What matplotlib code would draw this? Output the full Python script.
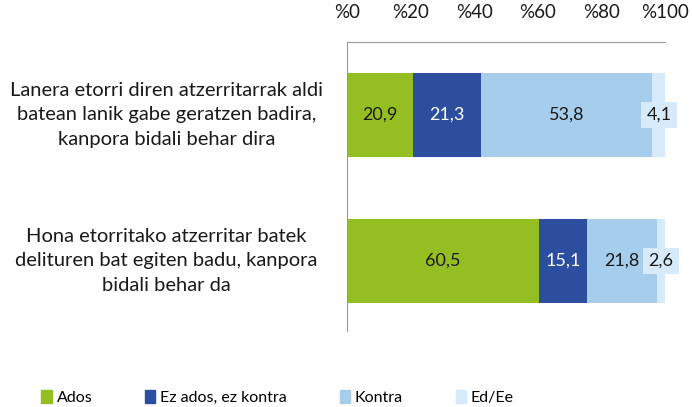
import matplotlib.pyplot as plt
from matplotlib.patches import Patch

plt.rcParams['font.family'] = ['Lato', 'DejaVu Sans']

questions = [
    "Lanera etorri diren atzerritarrak aldi\nbatean lanik gabe geratzen badira,\nkanpora bidali behar dira",
    "Hona etorritako atzerritar batek\ndelituren bat egiten badu, kanpora\nbidali behar da",
]
series_names = ["Ados", "Ez ados, ez kontra", "Kontra", "Ed/Ee"]
ados = [20.9, 60.5]
neutral = [21.3, 15.1]
kontra = [53.8, 21.8]
ed_ee = [4.1, 2.6]
tick_vals = [0, 20, 40, 60, 80, 100]
tick_labels = ["%0", "%20", "%40", "%60", "%80", "%100"]

colors = ["#95be22", "#2c4e9e", "#a6cdeb", "#d6eaf9"]
text_colors = ["#1a1a1a", "white", "#1a1a1a", "#1a1a1a"]

fig = plt.figure(figsize=(6.92, 4.07), dpi=100)
ax = fig.add_axes([347 / 692, 1 - 331 / 407, 318 / 692, 289 / 407])

ys = [0, 1]
left = [0.0, 0.0]
for k, vals in enumerate([ados, neutral, kontra, ed_ee]):
    ax.barh(ys, vals, left=left, height=0.575, color=colors[k], label=series_names[k])
    for i, v in enumerate(vals):
        cx = left[i] + v / 2
        lab = ("%.1f" % v).replace(".", ",")
        if v < 5:
            ax.text(cx, ys[i], lab, ha="center", va="center", fontsize=13,
                    color=text_colors[k],
                    bbox=dict(boxstyle="square,pad=0.3", fc=colors[k], ec="none"))
        else:
            ax.text(cx, ys[i], lab, ha="center", va="center", fontsize=13,
                    color=text_colors[k])
    left = [left[i] + vals[i] for i in range(2)]

ax.set_xlim(0, 100)
ax.set_ylim(1.48, -0.5)
ax.xaxis.tick_top()
ax.set_xticks(tick_vals)
ax.set_xticklabels(tick_labels, fontsize=13.5, color="#1a1a1a")
ax.tick_params(axis="x", length=0, pad=15)
ax.set_yticks(ys)
ax.set_yticklabels(questions, fontsize=14.5, color="#1a1a1a", ha="center", va="center")
for t in ax.get_yticklabels():
    t.set_linespacing(1.55)
ax.tick_params(axis="y", length=0, pad=130)
for s in ["right", "bottom"]:
    ax.spines[s].set_visible(False)
for s in ["left", "top"]:
    ax.spines[s].set_color("#999999")

handles = [Patch(color=c) for c in colors]
fig.legend(handles, series_names, loc="lower left", bbox_to_anchor=(27 / 692, -0.03),
           ncol=4, frameon=False, fontsize=11.5, handlelength=0.65, handleheight=0.85,
           handletextpad=0.3, columnspacing=3.3)

fig.savefig("out.png", dpi=100)
